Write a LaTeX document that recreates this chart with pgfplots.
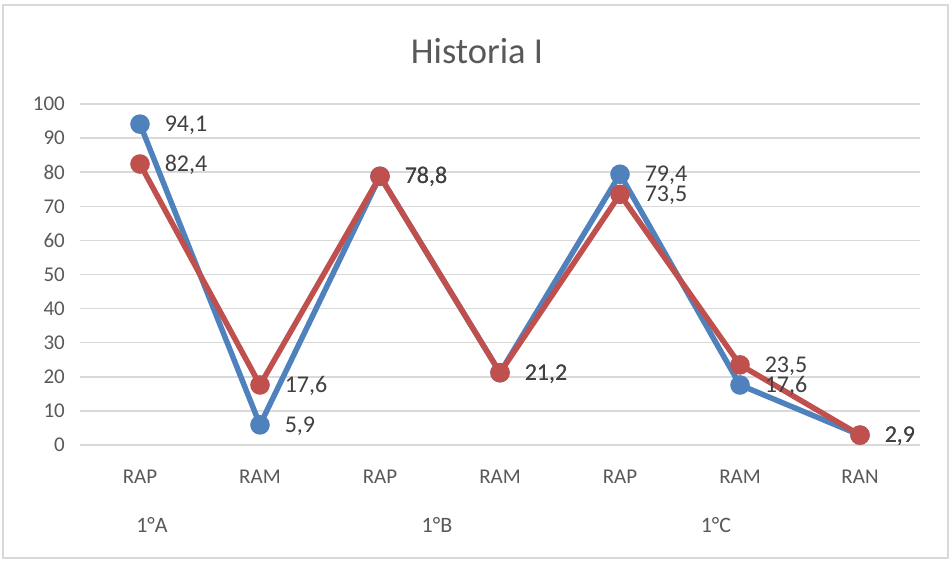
\documentclass[border=0pt]{standalone}
\usepackage{fontspec}
\setmainfont{Carlito}
\usepackage{pgfplots}
\pgfplotsset{compat=1.18}
\definecolor{sblue}{HTML}{4F81BD}
\definecolor{sred}{HTML}{C0504D}
\definecolor{gridc}{HTML}{D9D9D9}
\definecolor{txt}{HTML}{595959}
\definecolor{lbl}{HTML}{404040}
\begin{document}
\begin{tikzpicture}[x=1pt,y=1pt]
\useasboundingbox (-80,-116) rectangle (870,445);
\fill[white] (-80,-116) rectangle (870,445);
\draw[gridc, line width=1.2pt] (-77,-113) rectangle (868,440);
\begin{axis}[
  at={(0,0)}, anchor=south west,
  scale only axis, width=840pt, height=341pt,
  xmin=-0.5, xmax=6.5, ymin=0, ymax=100,
  axis line style={draw=none},
  major tick length=0pt,
  ytick={0,10,...,100},
  xtick={0,1,2,3,4,5,6},
  xticklabels={RAP,RAM,RAP,RAM,RAP,RAM,RAN},
  ymajorgrids, grid style={gridc, line width=1.5pt},
  /pgf/number format/assume math mode=true,
  ticklabel style={font=\fontsize{21}{23}\selectfont, text=txt},
  yticklabel style={anchor=east, inner sep=0pt, xshift=-15pt},
  xticklabel style={anchor=base, inner sep=0pt, yshift=-38.5pt},
  nodes near coords,
  nodes near coords style={anchor=base west, inner sep=0pt, xshift=22pt, yshift=-7.5pt,
     font=\fontsize{24}{26}\selectfont, text=lbl,
     /pgf/number format/.cd, fixed, precision=1, fixed zerofill, use comma, assume math mode=true},
  clip=false,
]
\addplot[sblue, line width=5.5pt, mark=*, mark size=7pt, mark options={fill=sblue, draw=none}]
  coordinates {(0,94.1) (1,5.9) (2,78.8) (3,21.2) (4,79.4) (5,17.6) (6,2.9)};
\addplot[sred, line width=5.5pt, mark=*, mark size=7pt, mark options={fill=sred, draw=none}]
  coordinates {(0,82.4) (1,17.6) (2,78.8) (3,21.2) (4,73.5) (5,23.5) (6,2.9)};
\node[anchor=base, inner sep=0pt, text=txt, font=\fontsize{22}{24}\selectfont] at (axis cs:0.1,0) [yshift=-87.5pt] {1°A};
\node[anchor=base, inner sep=0pt, text=txt, font=\fontsize{22}{24}\selectfont] at (axis cs:2.475,0) [yshift=-87.5pt] {1°B};
\node[anchor=base, inner sep=0pt, text=txt, font=\fontsize{22}{24}\selectfont] at (axis cs:4.8,0) [yshift=-87.5pt] {1°C};
\end{axis}
\node[anchor=base, inner sep=0pt, text=txt, font=\fontsize{36.5}{38}\selectfont] at (397,381) {Historia I};
\end{tikzpicture}
\end{document}
